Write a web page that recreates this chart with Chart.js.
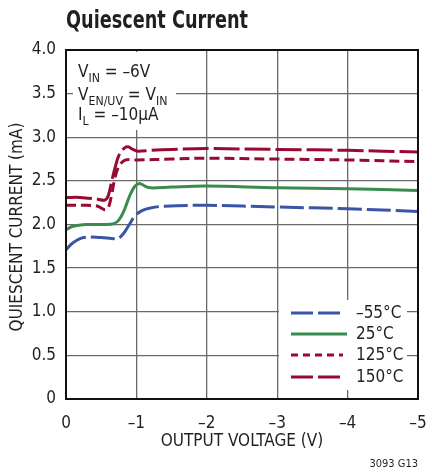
<!DOCTYPE html>
<html>
<head>
<meta charset="utf-8">
<script src="https://cdn.jsdelivr.net/npm/chart.js@4.4.1/dist/chart.umd.min.js"></script>
<style>
  html, body { margin: 0; padding: 0; background: #fff; }
  #wrap { position: relative; width: 432px; height: 473px; }
</style>
</head>
<body>
<div id="wrap"><canvas id="qc" width="432" height="473"></canvas></div>
<script>
/* ─── Data ─────────────────────────────────────────────────── */
const FONT = "'Liberation Sans Narrow', 'DejaVu Sans Condensed', 'Arial Narrow', sans-serif";

const SERIES_LABELS = ['–55°C', '25°C', '125°C', '150°C'];

const vM55  = [0, -0.1, -0.25, -0.5, -0.65, -0.74, -0.82, -0.9, -0.98, -1.08, -1.2, -1.4, -2, -3, -4, -5];
const iM55  = [1.71, 1.79, 1.85, 1.85, 1.84, 1.84, 1.90, 2.00, 2.10, 2.16, 2.19, 2.21, 2.22, 2.20, 2.18, 2.15];

const v25   = [0, -0.1, -0.3, -0.55, -0.68, -0.75, -0.82, -0.9, -0.97, -1.04, -1.12, -1.2, -1.5, -2, -3, -4, -5];
const i25   = [1.94, 1.98, 2.00, 2.00, 2.01, 2.05, 2.15, 2.32, 2.43, 2.47, 2.44, 2.42, 2.43, 2.44, 2.42, 2.41, 2.39];

const v125  = [0, -0.3, -0.45, -0.55, -0.6, -0.65, -0.7, -0.76, -0.85, -1.0, -1.5, -2, -3, -4, -5];
const i125  = [2.22, 2.22, 2.21, 2.17, 2.19, 2.35, 2.55, 2.68, 2.74, 2.74, 2.75, 2.76, 2.75, 2.74, 2.72];

const v150  = [0, -0.2, -0.45, -0.55, -0.6, -0.65, -0.7, -0.75, -0.82, -0.88, -0.95, -1.02, -1.2, -1.5, -2, -3, -4, -5];
const i150  = [2.31, 2.31, 2.29, 2.28, 2.33, 2.50, 2.66, 2.79, 2.87, 2.89, 2.86, 2.84, 2.85, 2.86, 2.87, 2.86, 2.85, 2.83];

const X_TICKS = [0, -1, -2, -3, -4, -5];
const Y_TICKS = [0, 0.5, 1.0, 1.5, 2.0, 2.5, 3.0, 3.5, 4.0];

/* ─── Styles ──────────────────────────────────────────────── */
const BLUE  = '#3a55a6';
const GREEN = '#3a8c4e';
const RED   = '#980a33';
const GRID  = '#6a6a6a';
const INK   = '#231f20';

const pts = (xs, ys) => xs.map((x, i) => ({ x, y: ys[i] }));
const fmtV = v => v === 0 ? '0' : '–' + Math.abs(v);
const fmtI = v => v === 0 ? '0' : v.toFixed(1);

/* ─── Helpers for subscript text ──────────────────────────── */
function drawRuns(ctx, x, y, runs, size) {
  runs.forEach(([txt, sub]) => {
    ctx.font = (sub ? size * 0.72 : size) + 'px ' + FONT;
    ctx.fillText(txt, x, sub ? y + size * 0.28 : y);
    x += ctx.measureText(txt).width;
  });
}

/* ─── Overlay plugin: boxes, frame, legend, labels ────────── */
const overlay = {
  id: 'overlay',
  beforeDatasetsDraw(chart) {
    const c = chart.ctx;
    c.save();
    c.fillStyle = '#fff';
    c.fillRect(73, 52, 103, 78);    // condition text box
    c.fillRect(279, 300, 128, 90);  // legend box
    c.restore();
  },
  afterDraw(chart) {
    const c = chart.ctx;
    const a = chart.chartArea;
    c.save();
    // frame
    c.strokeStyle = '#111';
    c.lineWidth = 2;
    c.strokeRect(a.left, a.top, a.right - a.left, a.bottom - a.top);

    // title (condensed to the original width)
    c.fillStyle = INK;
    c.textBaseline = 'alphabetic';
    c.textAlign = 'left';
    c.font = 'bold 25px ' + FONT;
    const tw = c.measureText('Quiescent Current').width;
    c.save();
    c.translate(66, 28);
    c.scale(182 / tw, 1);
    c.fillText('Quiescent Current', 0, 0);
    c.restore();

    // conditions
    drawRuns(c, 78, 77, [['V'], ['IN', 1], [' = –6V']], 17);
    drawRuns(c, 78, 100, [['V'], ['EN/UV', 1], [' = V'], ['IN', 1]], 17);
    drawRuns(c, 78, 120, [['I'], ['L', 1], [' = –10µA']], 17);

    // y axis title
    c.save();
    c.translate(18, 227);
    c.rotate(-Math.PI / 2);
    c.textAlign = 'center';
    c.textBaseline = 'middle';
    c.font = '17px ' + FONT;
    c.fillText('QUIESCENT CURRENT (mA)', 0, 0);
    c.restore();

    // legend
    const rows = [313, 334, 355, 377];
    chart.data.datasets.forEach((ds, i) => {
      const y = rows[i];
      c.beginPath();
      c.strokeStyle = ds.borderColor;
      c.lineWidth = ds.borderWidth;
      c.setLineDash(ds.legendDash);
      c.moveTo(291, y);
      c.lineTo(i === 1 ? 347 : 343, y);
      c.stroke();
      c.setLineDash([]);
      c.textAlign = 'left';
      c.textBaseline = 'middle';
      c.font = '17px ' + FONT;
      c.fillText(ds.label, 356, y + 1);
    });

    // figure id
    c.textAlign = 'right';
    c.textBaseline = 'middle';
    c.font = '11px ' + FONT;
    c.fillText('3093 G13', 418, 464);
    c.restore();
  }
};

/* ─── Chart ───────────────────────────────────────────────── */
const mk = (label, data, color, dash, legendDash) => ({
  label, data,
  borderColor: color,
  backgroundColor: color,
  borderWidth: 3,
  borderDash: dash,
  legendDash,
  pointRadius: 0,
  tension: 0.35,
  fill: false
});

new Chart(document.getElementById('qc'), {
  type: 'line',
  data: {
    datasets: [
      mk(SERIES_LABELS[0], pts(vM55, iM55), BLUE,  [24, 5], [22, 5]),
      mk(SERIES_LABELS[1], pts(v25,  i25),  GREEN, [],      []),
      mk(SERIES_LABELS[2], pts(v125, i125), RED,   [10, 5], [7, 5]),
      mk(SERIES_LABELS[3], pts(v150, i150), RED,   [26, 5], [22, 5])
    ]
  },
  options: {
    responsive: false,
    animation: false,
    layout: { padding: { top: 50, right: 14, left: 0, bottom: 0 } },
    plugins: { legend: { display: false }, tooltip: { enabled: false } },
    scales: {
      x: {
        type: 'linear',
        min: -5, max: 0,
        reverse: true,
        afterFit: s => { s.height = 74; s.paddingLeft = 0; s.paddingRight = 0; },
        afterBuildTicks: s => { s.ticks = X_TICKS.map(v => ({ value: v })); },
        grid: { color: GRID, lineWidth: 1.3, drawTicks: false },
        border: { display: false },
        ticks: {
          color: INK, padding: 14,
          font: { family: FONT, size: 17 },
          callback: v => fmtV(v)
        },
        title: {
          display: true, text: 'OUTPUT VOLTAGE (V)', color: INK,
          font: { family: FONT, size: 17 }, padding: { top: 0, bottom: 21 }
        }
      },
      y: {
        type: 'linear',
        min: 0, max: 4,
        afterFit: s => { s.width = 66; s.paddingTop = 0; s.paddingBottom = 0; },
        afterBuildTicks: s => { s.ticks = Y_TICKS.map(v => ({ value: v })); },
        grid: { color: GRID, lineWidth: 1.3, drawTicks: false },
        border: { display: false },
        ticks: {
          color: INK, padding: 10,
          font: { family: FONT, size: 17 },
          callback: v => fmtI(v)
        }
      }
    }
  },
  plugins: [overlay]
});
</script>
</body>
</html>
